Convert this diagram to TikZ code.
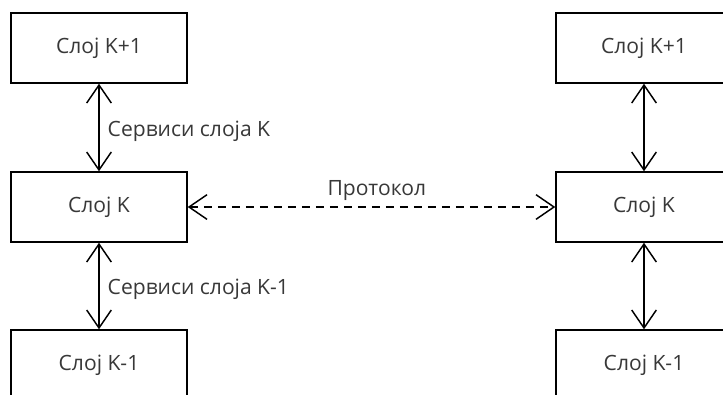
\documentclass[tikz,border=0pt]{standalone}
\usepackage{fontspec}
\setmainfont{Open Sans}
\usetikzlibrary{arrows.meta}
\begin{document}
\begin{tikzpicture}[x=0.75pt,y=-0.75pt,
  layer/.style={draw=black, line width=1.1pt, minimum width=132pt, minimum height=52.5pt, inner sep=0pt, text=black!78, font=\fontsize{15.8}{18}\selectfont},
  lbl/.style={text=black!78, font=\fontsize{15.8}{18}\selectfont, inner sep=0pt},
  barb/.tip={Straight Barb[length=13.5pt,width=18.5pt,line width=1.1pt]},
  conn/.style={line width=1.1pt, barb-barb}]
\useasboundingbox (0,0) rectangle (723,394);
\clip (0,0) rectangle (723,394);
\node[layer] (l1) at (99,48) {Слој K+1};
\node[layer] (l2) at (99,207) {Слој K};
\node[layer] (l3) at (99,365) {Слој K-1};
\node[layer] (r1) at (644,48) {Слој K+1};
\node[layer] (r2) at (644,207) {Слој K};
\node[layer] (r3) at (644,365) {Слој K-1};
\draw[conn] (l1) -- (l2) node[lbl, pos=0.54, anchor=west, xshift=6pt] {Сервиси слоја K};
\draw[conn] (l2) -- (l3) node[lbl, pos=0.54, anchor=west, xshift=6pt] {Сервиси слоја K-1};
\draw[conn] (r1) -- (r2);
\draw[conn] (r2) -- (r3);
\draw[conn, dash pattern=on 6pt off 4.5pt] (l2) -- (r2) node[lbl, midway, anchor=south, yshift=4.5pt, xshift=4pt] {Протокол};
\end{tikzpicture}
\end{document}
